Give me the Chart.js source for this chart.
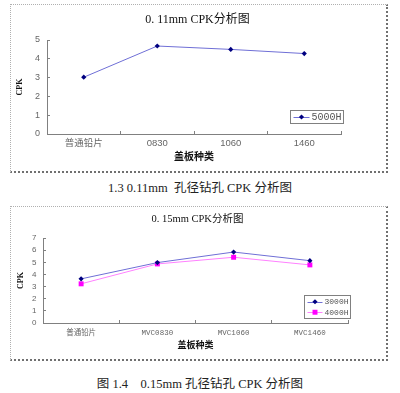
<!DOCTYPE html>
<html><head><meta charset="utf-8">
<script src="https://cdn.jsdelivr.net/npm/chart.js"></script>
<style>
html,body{margin:0;padding:0;background:#fff;width:400px;height:393px;overflow:hidden;position:relative;}
.frame{position:absolute;box-sizing:border-box;border-left:1px dotted #b0b0b0;border-top:1px dotted #b0b0b0;border-right:2px dotted #707070;border-bottom:2px dotted #707070;}
canvas{position:absolute;}
.cap{position:absolute;left:0;width:400px;text-align:center;font-family:"Liberation Serif","Noto Sans CJK SC",serif;font-size:12.5px;color:#222;white-space:pre;}
</style></head><body>
<div class="frame" style="left:10px;top:4px;width:378px;height:169px"></div>
<canvas id="c1" width="375" height="167" style="left:10px;top:5px"></canvas>
<div class="cap" style="top:177px">1.3 0.11mm  孔径钻孔 CPK 分析图</div>
<div class="frame" style="left:10px;top:206px;width:378px;height:155px"></div>
<canvas id="c2" width="375" height="153" style="left:10px;top:207px"></canvas>
<div class="cap" style="top:373px">图 1.4　0.15mm 孔径钻孔 CPK 分析图</div>
<script>
// ---- data ----
const title1 = '0. 11mm CPK分析图';
const title2 = '0. 15mm CPK分析图';
const categories1 = ['普通铅片', '0830', '1060', '1460'];
const categories2 = ['普通铅片', 'MVC0830', 'MVC1060', 'MVC1460'];
const cpk5000H = [3.02, 4.68, 4.50, 4.28];
const cpk3000H = [3.64, 4.98, 5.85, 5.14];
const cpk4000H = [3.23, 4.87, 5.42, 4.79];
const yMax1 = 5;
const yMax2 = 7;
const xAxisTitle = '盖板种类';
const yAxisTitle = 'CPK';

// ---- legend plugin (boxed legend inside plot, bottom right) ----
const boxLegend = {
  id: 'boxLegend',
  afterDraw(chart, args, o) {
    const ctx = chart.ctx, ca = chart.chartArea;
    const ds = chart.data.datasets;
    ctx.save();
    ctx.font = o.fontSize + 'px "Liberation Mono", monospace';
    let tw = 0;
    ds.forEach(d => { tw = Math.max(tw, ctx.measureText(d.label).width); });
    const w = o.padL + o.lineLen + 2 + tw + o.padR;
    const h = ds.length * o.rowH + o.padV * 2;
    const x0 = Math.round(ca.right + o.dx - w) + 0.5;
    const y0 = Math.round(ca.bottom - o.dy - h) + 0.5;
    ctx.fillStyle = '#fff';
    ctx.fillRect(x0, y0, w, h);
    ctx.strokeStyle = '#808080';
    ctx.lineWidth = 1;
    ctx.strokeRect(x0, y0, w, h);
    ds.forEach((d, i) => {
      const cy = y0 + o.padV + o.rowH * (i + 0.5);
      const lx = x0 + o.padL;
      ctx.strokeStyle = d.borderColor;
      ctx.lineWidth = 1;
      ctx.beginPath();
      ctx.moveTo(lx, Math.round(cy) + 0.5);
      ctx.lineTo(lx + o.lineLen, Math.round(cy) + 0.5);
      ctx.stroke();
      const mx = lx + o.lineLen / 2;
      ctx.fillStyle = d.pointBackgroundColor;
      const r = d.pointRadius;
      if (d.pointStyle === 'rect') {
        const s = r * Math.SQRT1_2;
        ctx.fillRect(mx - s, cy - s, 2 * s, 2 * s);
      } else {
        ctx.beginPath();
        ctx.moveTo(mx, cy - r); ctx.lineTo(mx + r, cy); ctx.lineTo(mx, cy + r); ctx.lineTo(mx - r, cy);
        ctx.closePath(); ctx.fill();
      }
      ctx.fillStyle = '#555';
      ctx.textBaseline = 'middle';
      ctx.textAlign = 'left';
      ctx.fillText(d.label, lx + o.lineLen + 2, cy + 0.5);
    });
    ctx.restore();
  }
};

const tickFont = (fam, s) => ({ family: fam, size: s });
const SANS = '"Liberation Sans","Noto Sans CJK SC",sans-serif';
const MONO = '"Liberation Mono","Noto Sans CJK SC",monospace';

function makeChart(id, cfg) {
  return new Chart(document.getElementById(id), {
    type: 'line',
    data: { labels: cfg.labels, datasets: cfg.datasets },
    options: {
      responsive: false,
      animation: false,
      devicePixelRatio: 1,
      layout: { padding: 0 },
      plugins: {
        legend: { display: false },
        tooltip: { enabled: false },
        title: {
          display: true, text: cfg.title, color: '#111',
          font: { family: '"Liberation Serif","Noto Sans CJK SC",serif', size: cfg.titleSize, weight: 'normal', lineHeight: 1.2 },
          padding: { top: cfg.titlePT, bottom: cfg.titlePB }
        },
        boxLegend: cfg.legend
      },
      scales: {
        x: {
          offset: true,
          afterFit: (s) => { s.height = cfg.xH; },
          border: { color: '#808080', width: 1 },
          grid: { drawOnChartArea: false, tickLength: -3, color: '#808080', offset: true },
          ticks: { color: '#666', font: tickFont(cfg.xTickFam, cfg.xTickSize), padding: cfg.xTickPad, maxRotation: 0, autoSkip: false },
          title: { display: true, text: xAxisTitle, color: '#111',
            font: { family: '"Noto Sans CJK SC",sans-serif', size: cfg.xTitleSize, weight: 'bold', lineHeight: 1.2 },
            padding: { top: 0, bottom: cfg.xTitlePB } }
        },
        y: {
          min: 0, max: cfg.yMax,
          afterFit: (s) => { s.width = cfg.yW; },
          border: { color: '#808080', width: 1 },
          grid: { drawOnChartArea: false, tickLength: -3, color: '#808080' },
          ticks: { stepSize: 1, autoSkip: false, color: '#666', font: tickFont(SANS, cfg.yTickSize), padding: cfg.yTickPad },
          title: { display: true, text: yAxisTitle, color: '#111',
            font: { family: '"Liberation Serif",serif', size: 8, weight: 'bold', lineHeight: 1.2 },
            padding: { top: cfg.yTitlePT, bottom: 0 } }
        },
        spacer: {
          type: 'linear', position: 'right', display: true,
          afterFit: (s) => { s.width = cfg.padRight; },
          border: { display: false },
          grid: { display: false, drawTicks: false },
          ticks: { display: false }
        }
      }
    },
    plugins: [boxLegend]
  });
}

const navyLine = '#6f6fd6', navy = '#000080', pinkLine = '#ff80ff', magenta = '#ff00ff';

makeChart('c1', {
  labels: categories1,
  title: title1, titleSize: 12, titlePT: 8, titlePB: 12.6,
  padRight: 44, xH: 38, yW: 37, yMax: yMax1,
  xTickFam: SANS, xTickSize: 9.5, xTickPad: 7, yTickSize: 9, yTickPad: 10,
  xTitleSize: 10, xTitlePB: 10, yTitlePT: 5.2,
  legend: { fontSize: 10, rowH: 12, padV: 0.5, padL: 3, padR: 2, lineLen: 16, dx: 2, dy: 11 },
  datasets: [
    { label: '5000H', data: cpk5000H, borderColor: navyLine, borderWidth: 1, pointStyle: 'rectRot', pointRadius: 2.6, pointBackgroundColor: navy, pointBorderColor: navy, pointBorderWidth: 0 }
  ]
});

makeChart('c2', {
  labels: categories2,
  title: title2, titleSize: 10.5, titlePT: 6, titlePB: 12.5,
  padRight: 37, xH: 37, yW: 33, yMax: yMax2,
  xTickFam: MONO, xTickSize: 7.5, xTickPad: 9, yTickSize: 8, yTickPad: 9.6,
  xTitleSize: 9, xTitlePB: 9.6, yTitlePT: 5.9,
  legend: { fontSize: 8, rowH: 10.5, padV: 1, padL: 3, padR: 2, lineLen: 15, dx: 2, dy: 5 },
  datasets: [
    { label: '3000H', data: cpk3000H, borderColor: navyLine, borderWidth: 1, pointStyle: 'rectRot', pointRadius: 2.6, pointBackgroundColor: navy, pointBorderColor: navy, pointBorderWidth: 0 },
    { label: '4000H', data: cpk4000H, borderColor: pinkLine, borderWidth: 1, pointStyle: 'rect', pointRadius: 3.5, pointBackgroundColor: magenta, pointBorderColor: magenta, pointBorderWidth: 0 }
  ]
});
</script>
</body></html>
